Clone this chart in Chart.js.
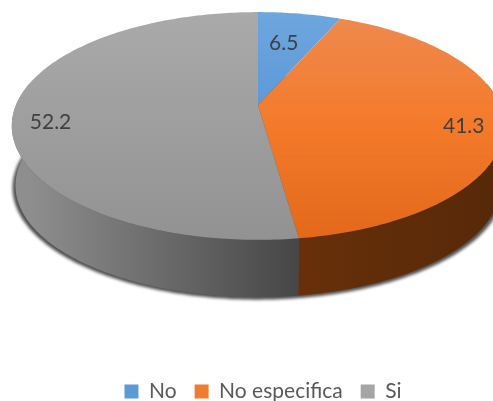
<!DOCTYPE html>
<html>
<head>
<meta charset="utf-8">
<script src="https://cdn.jsdelivr.net/npm/chart.js@4/dist/chart.umd.js"></script>
<style>
  body { margin: 0; background: #fff; }
  canvas { display: block; }
</style>
</head>
<body>
<canvas id="pieChart" width="493" height="401"></canvas>
<script>
var categories = ['No', 'No especifica', 'Si'];
var values = [6.5, 41.3, 52.2];
var legendColors = ['#5b9bd5', '#ed7d31', '#a5a5a5'];

// Tilted disc: where the centre lands and how wide it is on screen
var pieX = 258, pieY = 105;
var radiusX = 242, radiusY = 110;
var tilt = -0.184;       // perspective, the front edge is closer
var wallDrop = 60;       // depth of the rim
var wallShrinkX = 0.985;
var wallShrinkY = 0.98;

// Top surface and rim shading for each slice
var topStops = [
    ['#6ea6de', '#4488cf'],
    ['#ee8a50', '#f47a2a', '#e3681a'],
    ['#aaaaaa', '#929292']
];
var wallStops = [
    ['#3a6e9c', '#3a6e9c'],
    ['#67300a', '#582908'],
    ['#8e8e8e', '#464646']
];
var labelReach = [0.58, 0.84, 0.85];
var labelDrop = [-5, 9, 11];

// Project a point on the flat disc to the screen
function project(angle, reach, drop, shrinkX, shrinkY) {
    var u = Math.cos(angle) * reach;
    var v = Math.sin(angle) * reach;
    var d = 1 + tilt * v;
    return {
        x: pieX + radiusX * shrinkX * u / d,
        y: pieY + drop + radiusY * shrinkY * v / d
    };
}

function traceEdge(ctx, from, to, drop, shrinkX, shrinkY) {
    var steps = Math.max(2, Math.ceil(Math.abs(to - from) * 60));
    for (var i = 0; i <= steps; i++) {
        var p = project(from + (to - from) * i / steps, 1, drop, shrinkX, shrinkY);
        ctx.lineTo(p.x, p.y);
    }
}

function makeGradient(ctx, x0, y0, x1, y1, stops) {
    var g = ctx.createLinearGradient(x0, y0, x1, y1);
    stops.forEach(function (c, i) {
        g.addColorStop(i / (stops.length - 1), c);
    });
    return g;
}

var pie3dPlugin = {
    id: 'pie3d',
    beforeDatasetsDraw: function (chart) {
        var ctx = chart.ctx;
        var arcs = chart.getDatasetMeta(0).data;

        // Soft shadow under the disc, a bit wider than the rim
        ctx.save();
        ctx.filter = 'blur(1.5px)';
        ctx.fillStyle = 'rgba(50,50,50,0.85)';
        ctx.beginPath();
        traceEdge(ctx, 0, Math.PI * 2, wallDrop + 2, wallShrinkX + 0.012, wallShrinkY + 0.004);
        ctx.closePath();
        ctx.fill();
        ctx.restore();

        arcs.forEach(function (arc, i) {
            // Only the part of the rim facing the viewer shows
            var from = Math.max(arc.startAngle, -0.2);
            var to = Math.min(arc.endAngle, Math.PI + 0.2);
            if (to > from) {
                var left = Math.min(project(from, 1, 0, 1, 1).x, project(to, 1, 0, 1, 1).x);
                var right = Math.max(project(from, 1, 0, 1, 1).x, project(to, 1, 0, 1, 1).x);
                ctx.fillStyle = makeGradient(ctx, left, 0, right, 0, wallStops[i]);
                ctx.beginPath();
                traceEdge(ctx, from, to, 0, 1, 1);
                traceEdge(ctx, to, from, wallDrop, wallShrinkX, wallShrinkY);
                ctx.closePath();
                ctx.fill();
            }
        });

        arcs.forEach(function (arc, i) {
            ctx.fillStyle = makeGradient(ctx, 0, pieY - 93, 0, pieY + 135, topStops[i]);
            ctx.beginPath();
            ctx.moveTo(pieX, pieY);
            traceEdge(ctx, arc.startAngle, arc.endAngle, 0, 1, 1);
            ctx.closePath();
            ctx.fill();
        });

        // Value labels
        ctx.fillStyle = '#404040';
        ctx.font = '21px Lato';
        ctx.textAlign = 'center';
        ctx.textBaseline = 'middle';
        arcs.forEach(function (arc, i) {
            var mid = (arc.startAngle + arc.endAngle) / 2;
            var p = project(mid, labelReach[i], labelDrop[i], 1, 1);
            ctx.fillText(values[i].toFixed(1), p.x, p.y);
        });

        return false;
    }
};

new Chart(document.getElementById('pieChart'), {
    type: 'pie',
    data: {
        labels: categories,
        datasets: [{
            data: values,
            backgroundColor: legendColors,
            borderWidth: 0
        }]
    },
    options: {
        responsive: false,
        animation: false,
        layout: { padding: { left: 33, bottom: -11 } },
        plugins: {
            tooltip: { enabled: false },
            legend: {
                position: 'bottom',
                labels: {
                    boxWidth: 14,
                    boxHeight: 14,
                    padding: 18,
                    color: '#595959',
                    font: { family: 'Lato', size: 21 }
                }
            }
        }
    },
    plugins: [pie3dPlugin]
});
</script>
</body>
</html>
